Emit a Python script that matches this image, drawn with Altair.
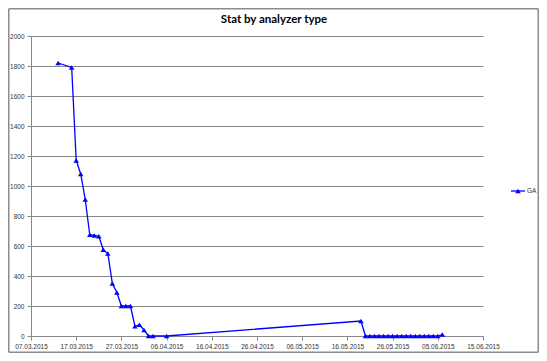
import altair as alt
import pandas as pd

dates = [
    "2015-03-13", "2015-03-16", "2015-03-17", "2015-03-18", "2015-03-19",
    "2015-03-20", "2015-03-21", "2015-03-22", "2015-03-23", "2015-03-24",
    "2015-03-25", "2015-03-26", "2015-03-27", "2015-03-28", "2015-03-29",
    "2015-03-30", "2015-03-31", "2015-04-01", "2015-04-02", "2015-04-03",
    "2015-04-06", "2015-05-19",
    "2015-05-20", "2015-05-21", "2015-05-22", "2015-05-23", "2015-05-24",
    "2015-05-25", "2015-05-26", "2015-05-27", "2015-05-28", "2015-05-29",
    "2015-05-30", "2015-05-31", "2015-06-01", "2015-06-02", "2015-06-03",
    "2015-06-04", "2015-06-05", "2015-06-06",
]
values = [
    1820, 1790, 1170, 1080, 910,
    675, 670, 665, 575, 550,
    350, 290, 200, 200, 200,
    65, 75, 40, 0, 0,
    0, 100,
    0, 0, 0, 0, 0,
    0, 0, 0, 0, 0,
    0, 0, 0, 0, 0,
    0, 0, 10,
]
series_name = "GA"
title_text = "Stat by analyzer type"
tick_dates = ["2015-03-07", "2015-03-17", "2015-03-27", "2015-04-06", "2015-04-16",
              "2015-04-26", "2015-05-06", "2015-05-16", "2015-05-26", "2015-06-05",
              "2015-06-15"]
y_ticks = list(range(0, 2001, 200))

df = pd.DataFrame({"date": dates, "value": values, "series": series_name})

def dt(s):
    y, m, d = map(int, s.split("-"))
    return alt.DateTime(year=y, month=m, date=d, utc=True)

BLUE = "#0000FF"
GRID = "#878787"
FONT = "Liberation Sans"

line = alt.Chart(df).mark_line(
    color=BLUE, strokeWidth=1.3,
    point=alt.OverlayMarkDef(shape="triangle-up", filled=True, size=30, color=BLUE, opacity=1),
).encode(
    x=alt.X("date:T", title=None,
            scale=alt.Scale(type="utc", domain=[dt(tick_dates[0]), dt(tick_dates[-1])], nice=False),
            axis=alt.Axis(values=[dt(t) for t in tick_dates], format="%d.%m.%Y", grid=False,
                          tickSize=4, labelPadding=3, labelFontSize=6.5, labelFont=FONT,
                          labelColor="#333333", domainColor=GRID, tickColor=GRID,
                          labelOverlap=False, labelFlush=False)),
    y=alt.Y("value:Q", title=None,
            scale=alt.Scale(domain=[0, 2000], nice=False),
            axis=alt.Axis(values=y_ticks, format="d", grid=True, gridColor=GRID, gridWidth=1,
                          tickSize=4, labelPadding=3, labelFontSize=6.5, labelFont=FONT,
                          labelColor="#333333", domainColor=GRID, tickColor=GRID)),
)

one = pd.DataFrame({"t": [series_name]})

FR = "#8c8c8c"
L, R, T, B = -22.25, 507.25, -27.25, 316.25
frame_top = alt.Chart(one).mark_rule(color=FR, strokeWidth=1.5).encode(
    x=alt.value(L), x2=alt.value(R), y=alt.value(T))
frame_bot = alt.Chart(one).mark_rule(color=FR, strokeWidth=1.5).encode(
    x=alt.value(L), x2=alt.value(R), y=alt.value(B))
frame_left = alt.Chart(one).mark_rule(color=FR, strokeWidth=1.5).encode(
    x=alt.value(L), y=alt.value(T), y2=alt.value(B))
frame_right = alt.Chart(one).mark_rule(color=FR, strokeWidth=1.5).encode(
    x=alt.value(R), y=alt.value(T), y2=alt.value(B))

leg_rule = alt.Chart(one).mark_rule(color=BLUE, strokeWidth=1.3).encode(
    x=alt.value(480), x2=alt.value(494), y=alt.value(155)
)
leg_pt = alt.Chart(one).mark_point(shape="triangle-up", filled=True, size=30, color=BLUE, opacity=1).encode(
    x=alt.value(487), y=alt.value(155)
)
leg_text = alt.Chart(one).mark_text(align="left", baseline="middle", fontSize=6.5, font=FONT,
                                    color="#333333").encode(
    x=alt.value(496), y=alt.value(155), text="t:N"
)

title = alt.Chart(pd.DataFrame({"t": [title_text]})).mark_text(
    align="center", baseline="alphabetic", fontSize=11.5, font="Lato", fontWeight="bold", color="#000000"
).encode(x=alt.value(243), y=alt.value(-13), text="t:N")

chart = alt.layer(frame_top, frame_bot, frame_left, frame_right, line,
                  leg_rule, leg_pt, leg_text, title).properties(
    width=452, height=300,
    padding={"left": 23, "top": 28, "right": 56, "bottom": 17},
    autosize=alt.AutoSizeParams(type="none"),
    background="white",
).configure_view(stroke=None)

chart.save("out.html", embed_options={"renderer": "svg", "actions": False})
